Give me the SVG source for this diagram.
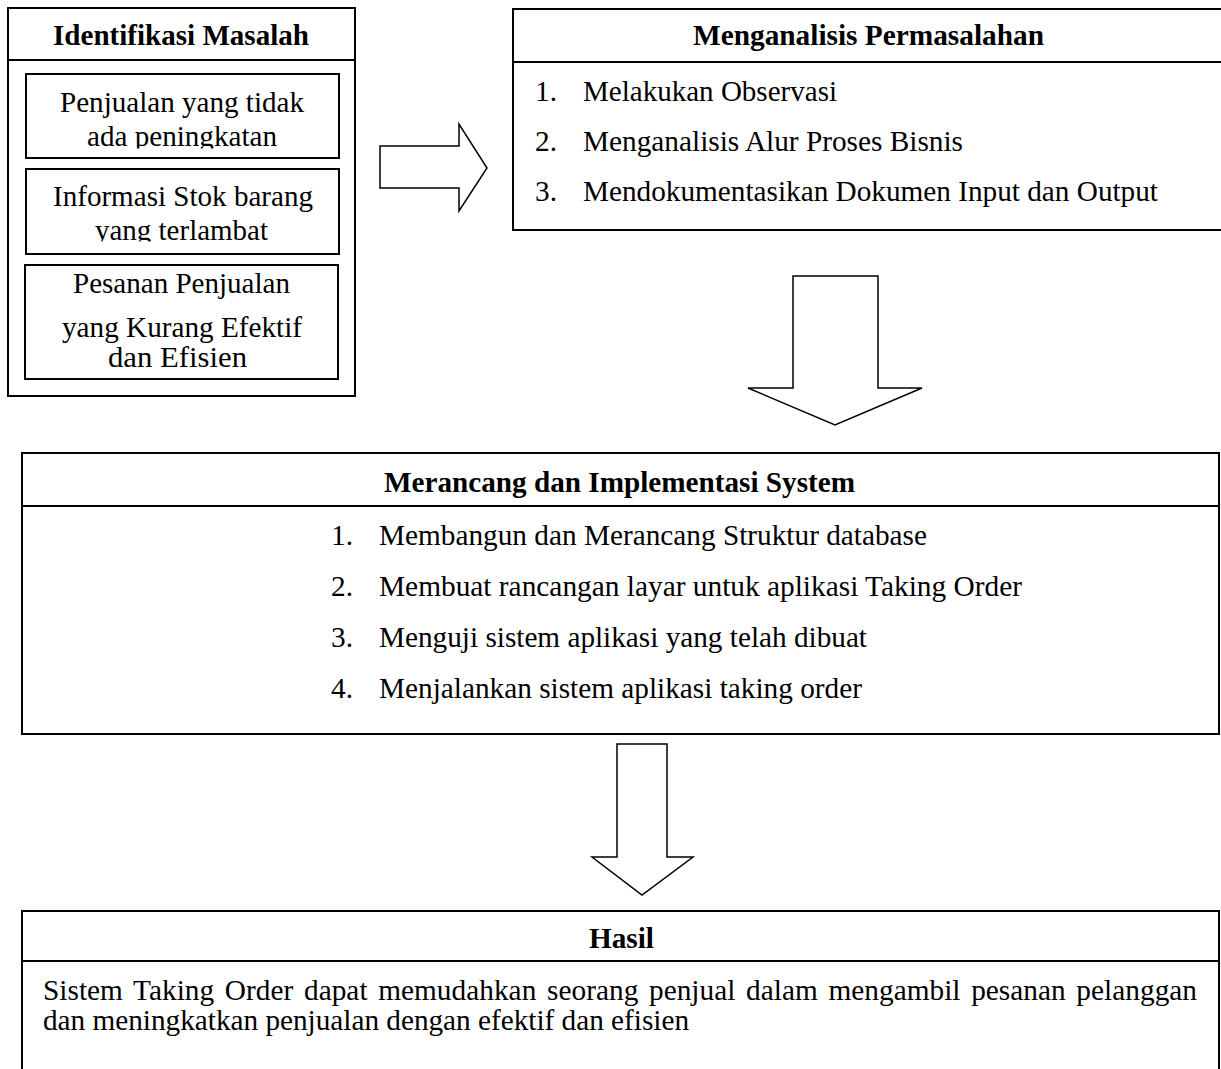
<svg xmlns="http://www.w3.org/2000/svg" width="1221" height="1069" viewBox="0 0 1221 1069">
<style>
.box{fill:#fff;stroke:#000;stroke-width:2}
.ln{stroke:#000;stroke-width:2}
.arrow{fill:#fff;stroke:#000;stroke-width:1.5;stroke-linejoin:miter}
</style>
<defs>
<clipPath id="c1"><rect x="0" y="0" width="400" height="148.5"/></clipPath>
<clipPath id="c2"><rect x="0" y="0" width="400" height="241.5"/></clipPath>
<clipPath id="c3"><rect x="0" y="0" width="400" height="368.5"/></clipPath>
</defs>
<rect width="1221" height="1069" fill="#fff"/>

<g font-family="'Liberation Serif', 'Times New Roman', serif" font-size="29.3" fill="#000">

<g id="node-identifikasi">
<rect class="box" x="8" y="8" width="347" height="388"/>
<line class="ln" x1="8" y1="60" x2="355" y2="60"/>
<text font-weight="bold" x="53" y="45" textLength="256" lengthAdjust="spacingAndGlyphs">Identifikasi Masalah</text>
<g id="node-penjualan">
<rect class="box" x="26" y="74" width="313" height="84"/>
<text x="60" y="112" textLength="244" lengthAdjust="spacingAndGlyphs">Penjualan yang tidak</text>
<text x="87" y="146" textLength="190" lengthAdjust="spacingAndGlyphs" clip-path="url(#c1)">ada peningkatan</text>
</g>
<g id="node-informasi">
<rect class="box" x="26" y="169" width="313" height="85"/>
<text x="53" y="206" textLength="260" lengthAdjust="spacingAndGlyphs">Informasi Stok barang</text>
<text x="95" y="240" textLength="173" lengthAdjust="spacingAndGlyphs" clip-path="url(#c2)">yang terlambat</text>
</g>
<g id="node-pesanan">
<rect class="box" x="25" y="265" width="313" height="114"/>
<text x="73" y="293" textLength="217" lengthAdjust="spacingAndGlyphs">Pesanan Penjualan</text>
<text x="62" y="337" textLength="240" lengthAdjust="spacingAndGlyphs">yang Kurang Efektif</text>
<text x="108" y="367" textLength="139" lengthAdjust="spacingAndGlyphs" clip-path="url(#c3)">dan Efisien</text>
</g>
</g>

<g id="node-analisis">
<rect class="box" x="513" y="9" width="712" height="221"/>
<line class="ln" x1="513" y1="62" x2="1225" y2="62"/>
<text font-weight="bold" x="693" y="45" textLength="351" lengthAdjust="spacingAndGlyphs">Menganalisis Permasalahan</text>
<text x="535" y="101">1.</text>
<text x="583" y="101" textLength="254" lengthAdjust="spacingAndGlyphs">Melakukan Observasi</text>
<text x="535" y="151">2.</text>
<text x="583" y="151" textLength="380" lengthAdjust="spacingAndGlyphs">Menganalisis Alur Proses Bisnis</text>
<text x="535" y="201">3.</text>
<text x="583" y="201" textLength="575" lengthAdjust="spacingAndGlyphs">Mendokumentasikan Dokumen Input dan Output</text>
</g>

<g id="node-merancang">
<rect class="box" x="22" y="453" width="1197" height="281"/>
<line class="ln" x1="22" y1="506" x2="1219" y2="506"/>
<text font-weight="bold" x="384" y="492" textLength="471" lengthAdjust="spacingAndGlyphs">Merancang dan Implementasi System</text>
<text x="331" y="545">1.</text>
<text x="379" y="545" textLength="548" lengthAdjust="spacingAndGlyphs">Membangun dan Merancang Struktur database</text>
<text x="331" y="596">2.</text>
<text x="379" y="596" textLength="643" lengthAdjust="spacingAndGlyphs">Membuat rancangan layar untuk aplikasi Taking Order</text>
<text x="331" y="647">3.</text>
<text x="379" y="647" textLength="488" lengthAdjust="spacingAndGlyphs">Menguji sistem aplikasi yang telah dibuat</text>
<text x="331" y="698">4.</text>
<text x="379" y="698" textLength="483" lengthAdjust="spacingAndGlyphs">Menjalankan sistem aplikasi taking order</text>
</g>

<g id="node-hasil">
<rect class="box" x="22" y="911" width="1197" height="200"/>
<line class="ln" x1="22" y1="961" x2="1219" y2="961"/>
<text font-weight="bold" x="589" y="948" textLength="65" lengthAdjust="spacingAndGlyphs">Hasil</text>
<text x="43" y="1000" word-spacing="3.3" textLength="1154" lengthAdjust="spacing">Sistem Taking Order dapat memudahkan seorang penjual dalam mengambil pesanan pelanggan</text>
<text x="43" y="1030" textLength="646" lengthAdjust="spacingAndGlyphs">dan meningkatkan penjualan dengan efektif dan efisien</text>
</g>

</g>

<g id="connectors">
<polygon class="arrow" points="380,146 459,146 459,124 487,168 459,211 459,188 380,188"/>
<polygon class="arrow" points="793,276 878,276 878,388 922,388 835,425 748,388 793,388"/>
<polygon class="arrow" points="617,744 667,744 667,857 693,857 642,895 592,857 617,857"/>
</g>
</svg>
